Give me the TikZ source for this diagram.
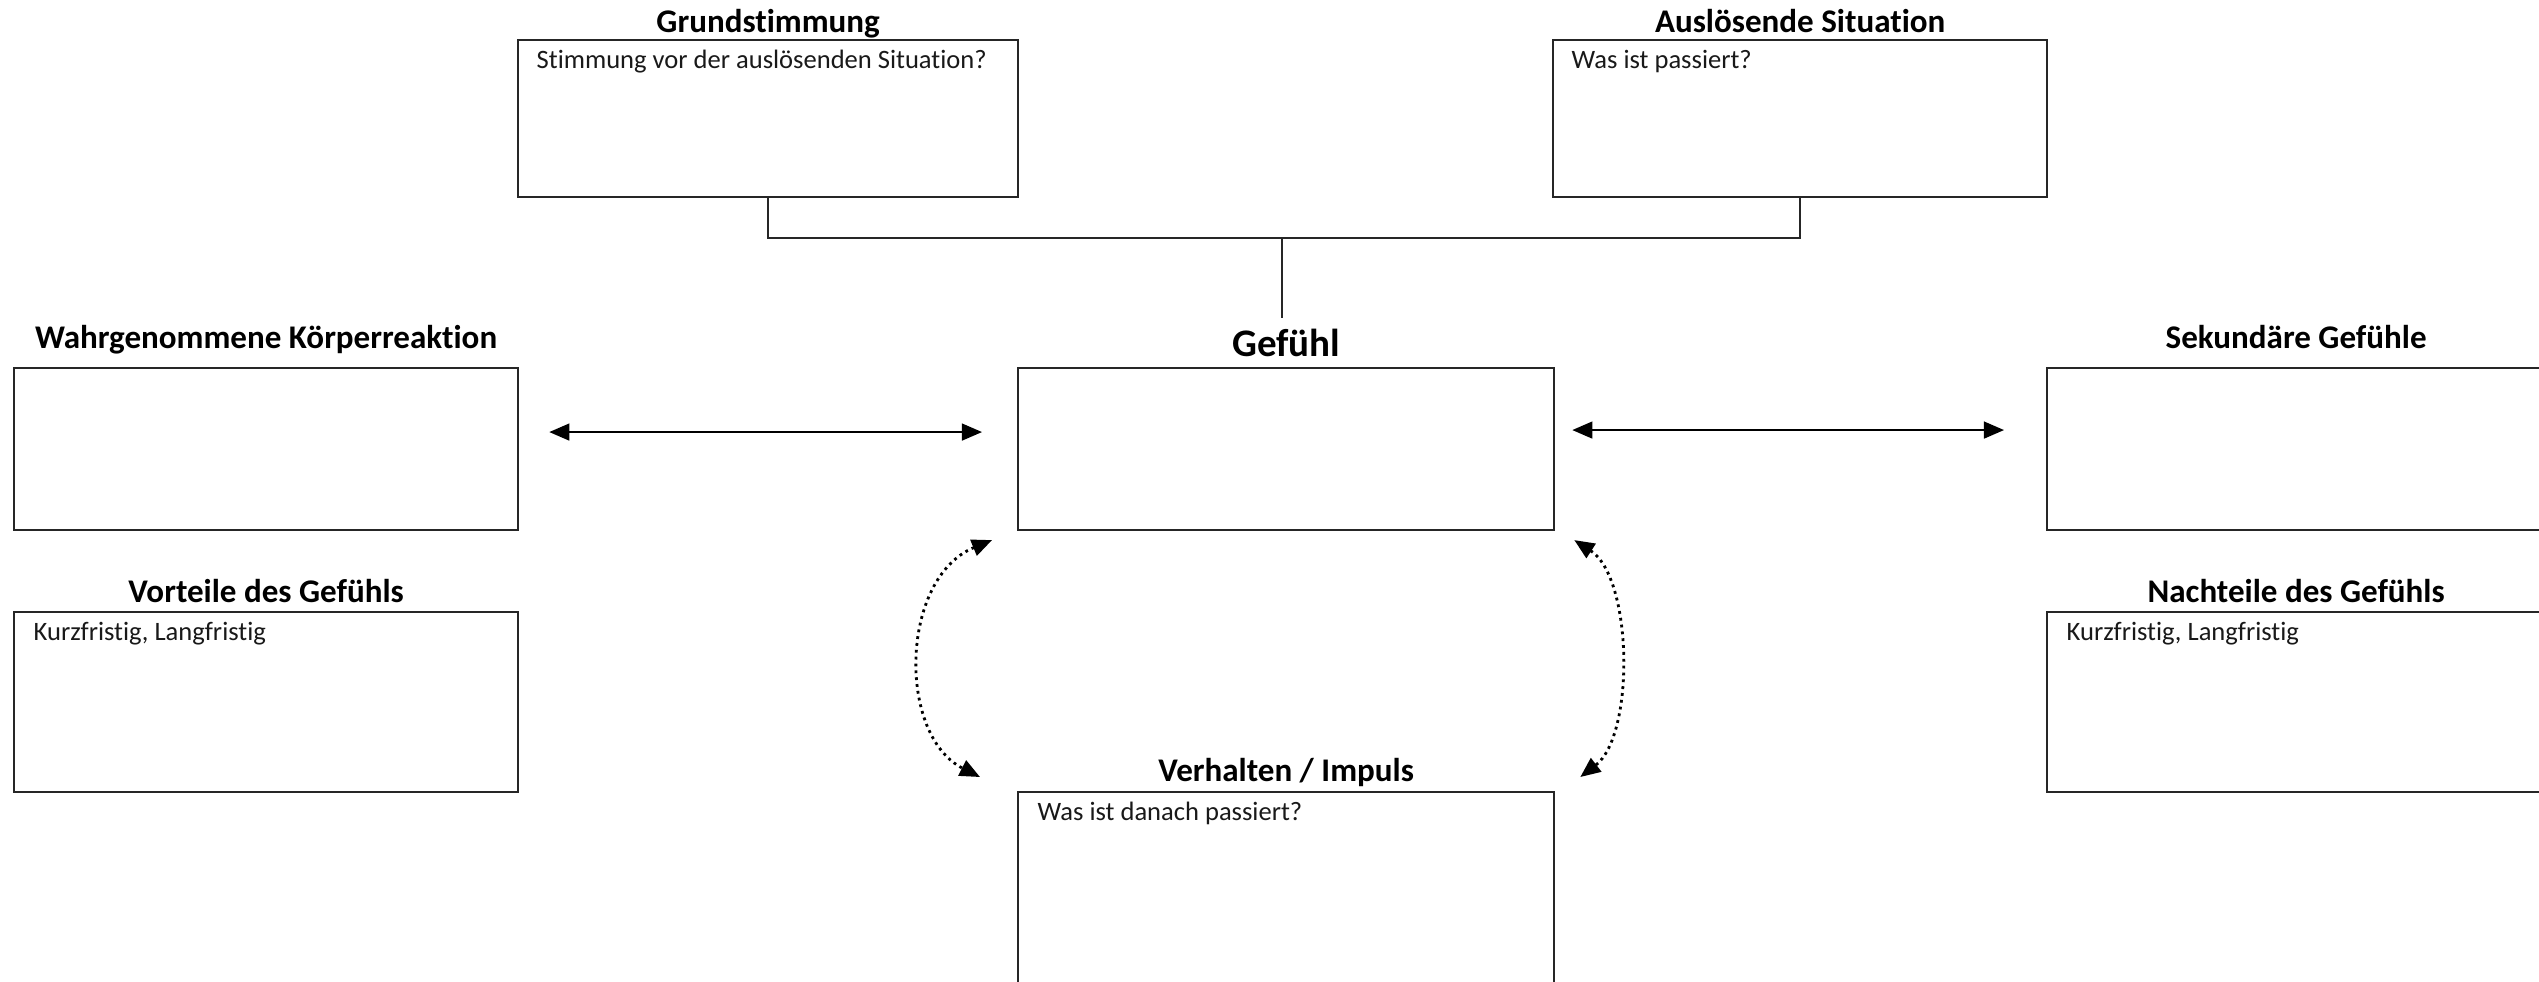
\documentclass[tikz,border=0pt]{standalone}
\usepackage{fontspec}
\setmainfont{Carlito}[Ligatures={NoCommon}]
\usetikzlibrary{arrows.meta}
\tikzset{
  box/.style={draw=black!85, line width=0.55pt, rectangle, inner sep=0pt, outer sep=0pt, anchor=north west},
  ttl/.style={anchor=base, inner sep=0pt, font=\fontsize{9.4}{11}\selectfont\bfseries},
  bigttl/.style={anchor=base, inner sep=0pt, font=\fontsize{11.1}{13}\selectfont\bfseries},
  bodytxt/.style={anchor=base west, inner sep=0pt, font=\fontsize{7.55}{9}\selectfont, text=black!90},
  conn/.style={draw=black!85, line width=0.5pt},
  tipx/.tip={Triangle[length=5.7pt,width=4.8pt]},
  harrow/.style={draw=black, line width=0.5pt, tipx-tipx},
  dotarrow/.style={draw=black, line width=0.8pt, dash pattern=on 0.8pt off 1.15pt, tipx-tipx},
}
\begin{document}
\begin{tikzpicture}[x=0.01cm,y=-0.01cm]
\useasboundingbox (0,0) rectangle (2539,981);
\clip (0,0) rectangle (2539,981);
\fill[white] (0,0) rectangle (2539,981);

% boxes
\node[box, minimum width=5.00cm, minimum height=1.57cm] (grund) at (518,40) {};
\node[box, minimum width=4.94cm, minimum height=1.57cm] (ausl) at (1553,40) {};
\node[box, minimum width=5.04cm, minimum height=1.62cm] (wahr) at (14,368) {};
\node[box, minimum width=5.36cm, minimum height=1.62cm] (gef) at (1018,368) {};
\node[box, minimum width=4.98cm, minimum height=1.62cm] (sek) at (2047,368) {};
\node[box, minimum width=5.04cm, minimum height=1.80cm] (vort) at (14,612) {};
\node[box, minimum width=4.98cm, minimum height=1.80cm] (nach) at (2047,612) {};
\node[box, minimum width=5.36cm, minimum height=2.30cm] (verh) at (1018,792) {};

% titles
\node[ttl] (tgrund) at ([shift={(0,-8)}]grund.north) {Grundstimmung};
\node[ttl] (tausl) at ([shift={(0,-8)}]ausl.north) {Auslösende Situation};
\node[ttl] (twahr) at ([shift={(0,-20)}]wahr.north) {Wahrgenommene Körperreaktion};
\node[bigttl] (tgef) at ([shift={(0,-12)}]gef.north) {Gefühl};
\node[ttl] (tsek) at ([shift={(0,-20)}]sek.north) {Sekundäre Gefühle};
\node[ttl] (tvort) at ([shift={(0,-10)}]vort.north) {Vorteile des Gefühls};
\node[ttl] (tnach) at ([shift={(0,-10)}]nach.north) {Nachteile des Gefühls};
\node[ttl] (tverh) at ([shift={(0,-11)}]verh.north) {Verhalten / Impuls};

% body texts
\node[bodytxt] (bgrund) at ([shift={(18,28)}]grund.north west) {Stimmung vor der auslösenden Situation?};
\node[bodytxt] (bausl) at ([shift={(18,28)}]ausl.north west) {Was ist passiert?};
\node[bodytxt] (bvort) at ([shift={(19,28)}]vort.north west) {Kurzfristig, Langfristig};
\node[bodytxt] (bnach) at ([shift={(19,28)}]nach.north west) {Kurzfristig, Langfristig};
\node[bodytxt] (bverh) at ([shift={(19,28)}]verh.north west) {Was ist danach passiert?};

% tree connector
\coordinate (junction) at (1282,238);
\coordinate (stemend) at (1282,318);
\draw[conn] (grund.south) |- (junction) -| (ausl.south);
\draw[conn] (junction) -- (stemend);

% horizontal double arrows
\draw[harrow] ([shift={(31,-17)}]wahr.east) -- ([shift={(-36,-17)}]gef.west);
\draw[harrow] ([shift={(18,-19)}]gef.east) -- ([shift={(-43,-19)}]sek.west);

% dotted curved double arrows
\draw[dotarrow] ([shift={(-26,10)}]gef.south west) .. controls (900,578) and (897,735) .. ([shift={(-38,-15)}]verh.north west);
\draw[dotarrow] ([shift={(20,10)}]gef.south east) .. controls (1633,578) and (1635,735) .. ([shift={(26,-15)}]verh.north east);
\end{tikzpicture}
\end{document}
